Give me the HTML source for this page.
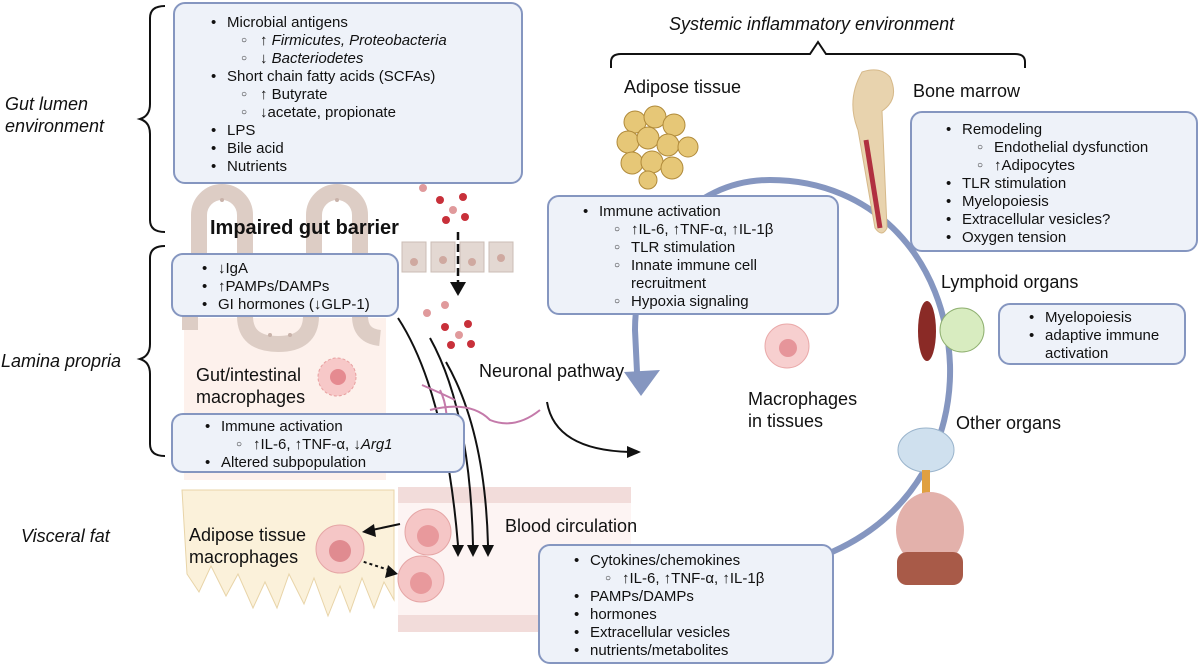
<!DOCTYPE html>
<html><head><meta charset="utf-8"><style>
body{margin:0;background:#fff;}
#c{position:relative;width:1200px;height:665px;overflow:hidden;font-family:"Liberation Sans",sans-serif;color:#111;}
.t{position:absolute;white-space:nowrap;font-size:18px;line-height:22px;}
.box{position:absolute;background:#eef2f9;border:2px solid #8596c0;border-radius:12px;box-sizing:border-box;font-size:15px;line-height:18px;}
.box ul{margin:0;padding:0;list-style:none;}
.box li{white-space:nowrap;position:relative;}
.box li:before{position:absolute;}
.a li.p{padding-left:52px}.a li.p:before{content:"•";left:36px}
.a li.q{padding-left:85px}.a li.q:before{content:"○";left:66px;font-size:10px}
.b li.p{padding-left:45px}.b li.p:before{content:"•";left:29px}
.c li.p{padding-left:48px}.c li.p:before{content:"•";left:32px}
.c li.q{padding-left:80px}.c li.q:before{content:"○";left:63px;font-size:10px}
.d li.p{padding-left:50px}.d li.p:before{content:"•";left:34px}
.d li.q{padding-left:82px}.d li.q:before{content:"○";left:65px;font-size:10px}
.it{font-style:italic;}
</style></head><body><div id="c">
<svg width="1200" height="665" style="position:absolute;left:0;top:0">
<rect x="184" y="318" width="202" height="162" fill="#fdf1ec"/>
<g fill="none" stroke="#ddcdc5" stroke-width="16">
<path d="M199 262 V215 a23 23 0 0 1 46 0 V262"/>
<path d="M314 262 V215 a23 23 0 0 1 46 0 V262"/>
<path d="M190 310 V330"/>
<path d="M245 316 q0 28 33 28 q33 0 33 -28"/>
<path d="M360 316 q0 20 20 22"/>
</g>
<g fill="#c9b3aa"><circle cx="222" cy="200" r="2"/><circle cx="337" cy="200" r="2"/><circle cx="270" cy="335" r="2"/><circle cx="290" cy="335" r="2"/></g>
<path d="M182 490 H394 V600 l-10 -18 l-10 26 l-12 -30 l-12 34 l-10 -26 l-12 30 l-14 -38 l-10 26 l-15 -30 l-12 34 l-12 -26 l-12 26 l-15 -34 l-12 22 l-15 -30 l-12 26 l-12 -18 Z" fill="#fbf1da" stroke="#e8d4a8"/>
<rect x="398" y="487" width="233" height="16" fill="#f2dcda"/>
<rect x="398" y="615" width="233" height="17" fill="#f2dcda"/>
<rect x="398" y="503" width="233" height="112" fill="#fdf4f3"/>
<g fill="#e3d8d2" stroke="#cbbdb5"><rect x="402" y="242" width="24" height="30"/><rect x="431" y="242" width="24" height="30"/><rect x="460" y="242" width="24" height="30"/><rect x="489" y="242" width="24" height="30"/></g>
<g fill="#cfa9a0"><circle cx="414" cy="262" r="4"/><circle cx="443" cy="260" r="4"/><circle cx="472" cy="262" r="4"/><circle cx="501" cy="258" r="4"/></g>
<g fill="#c8303a"><circle cx="440" cy="200" r="4"/><circle cx="463" cy="197" r="4"/><circle cx="446" cy="220" r="4"/><circle cx="465" cy="217" r="4"/><circle cx="445" cy="327" r="4"/><circle cx="468" cy="324" r="4"/><circle cx="451" cy="345" r="4"/><circle cx="471" cy="344" r="4"/></g>
<g fill="#e09a9c"><circle cx="423" cy="188" r="4"/><circle cx="453" cy="210" r="4"/><circle cx="445" cy="305" r="4"/><circle cx="427" cy="313" r="4"/><circle cx="459" cy="335" r="4"/></g>
<path d="M458 232 V282" stroke="#111" stroke-width="2.5" stroke-dasharray="8,4"/>
<path d="M450 282 L466 282 L458 296Z" fill="#111"/>
<g fill="none" stroke="#111" stroke-width="2">
<path d="M165 6 q-15 0 -15 12 V104 q0 12 -10 15 q10 3 10 15 V220 q0 12 15 12"/>
<path d="M165 246 q-15 0 -15 12 V344 q0 12 -10 15 q10 3 10 15 V444 q0 12 15 12"/>
<path d="M611 68 V62 q0 -8 10 -8 H810 l8 -12 l8 12 H1015 q10 0 10 8 V68"/>
</g>
<path d="M832 552 C915 515 952 440 950 365 C946 260 875 180 770 180 C690 180 635 250 635 330 L637 372" fill="none" stroke="#8596c0" stroke-width="6"/>
<path d="M624 372 L660 370 L641 396Z" fill="#8596c0"/>
<g fill="none" stroke="#111" stroke-width="2">
<path d="M398 318 Q445 390 458 545"/>
<path d="M430 338 Q470 410 473 545"/>
<path d="M446 362 Q485 430 488 545"/>
<path d="M547 402 Q555 450 630 452"/>
<path d="M400 524 L372 530"/>
<path d="M358 560 L392 571" stroke-dasharray="3,3"/>
</g>
<g fill="#111"><path d="M452 545 h12 l-6 12Z"/><path d="M467 545 h12 l-6 12Z"/><path d="M482 545 h12 l-6 12Z"/><path d="M627 446 L641 452 L627 458Z"/><path d="M374 524 L362 532 L376 537Z"/><path d="M388 565 L398 574 L385 578Z"/></g>
<g fill="none" stroke="#c47aaa" stroke-width="2"><path d="M430 410 Q470 400 490 420 Q515 430 540 410"/><path d="M440 390 Q450 410 445 440"/><path d="M422 385 Q445 395 455 400"/><path d="M430 430 Q440 420 445 440"/></g>
<circle cx="337" cy="377" r="19" fill="#f7c8c8" stroke="#e8a0a0" stroke-dasharray="3,2"/><circle cx="338" cy="377" r="8" fill="#e58a90"/>
<circle cx="340" cy="549" r="24" fill="#f5c6c6" stroke="#e5a5a5"/><circle cx="340" cy="551" r="11" fill="#e08b90"/>
<circle cx="428" cy="532" r="23" fill="#f5c6c6" stroke="#e5a5a5"/><circle cx="428" cy="536" r="11" fill="#e8999c"/>
<circle cx="421" cy="579" r="23" fill="#f5c6c6" stroke="#e5a5a5"/><circle cx="421" cy="583" r="11" fill="#e8999c"/>
<circle cx="787" cy="346" r="22" fill="#f7cfcf" stroke="#eaaaaa"/><circle cx="788" cy="348" r="9" fill="#e6959a"/>
<g fill="#e6c777" stroke="#b08a3a"><circle cx="635" cy="122" r="11"/><circle cx="655" cy="117" r="11"/><circle cx="674" cy="125" r="11"/><circle cx="628" cy="142" r="11"/><circle cx="648" cy="138" r="11"/><circle cx="668" cy="145" r="11"/><circle cx="688" cy="147" r="10"/><circle cx="632" cy="163" r="11"/><circle cx="652" cy="162" r="11"/><circle cx="672" cy="168" r="11"/><circle cx="648" cy="180" r="9"/></g>
<path d="M862 72 q18 -6 28 5 q10 22 -8 34 L887 228 q-5 10 -12 0 L858 130 q-12 -30 4 -58Z" fill="#e8d3ae" stroke="#d6b98a"/>
<path d="M866 140 L880 228" stroke="#b03040" stroke-width="5"/>
<ellipse cx="927" cy="331" rx="9" ry="30" fill="#8a2a26"/>
<circle cx="962" cy="330" r="22" fill="#d8ecc0" stroke="#8fb070"/>
<ellipse cx="926" cy="450" rx="28" ry="22" fill="#cfe0ee" stroke="#9ab4cc"/>
<rect x="922" y="470" width="8" height="30" fill="#e0a040"/>
<ellipse cx="930" cy="530" rx="34" ry="38" fill="#e3b1ab"/>
<rect x="897" y="552" width="66" height="33" rx="10" fill="#a85a48"/>
</svg>

<div class="t it" style="left:5px;top:93px">Gut lumen<br>environment</div>
<div class="t it" style="left:1px;top:350px">Lamina propria</div>
<div class="t it" style="left:21px;top:525px">Visceral fat</div>
<div class="t" style="left:210px;top:217px;font-size:20px;font-weight:bold">Impaired gut barrier</div>
<div class="t" style="left:196px;top:364px">Gut/intestinal<br>macrophages</div>
<div class="t" style="left:189px;top:524px">Adipose tissue<br>macrophages</div>
<div class="t" style="left:505px;top:515px">Blood circulation</div>
<div class="t" style="left:479px;top:360px">Neuronal pathway</div>
<div class="t it" style="left:669px;top:13px">Systemic inflammatory environment</div>
<div class="t" style="left:624px;top:76px">Adipose tissue</div>
<div class="t" style="left:913px;top:80px">Bone marrow</div>
<div class="t" style="left:941px;top:271px">Lymphoid organs</div>
<div class="t" style="left:748px;top:388px">Macrophages<br>in tissues</div>
<div class="t" style="left:956px;top:412px">Other organs</div>

<div class="box a" style="left:173px;top:2px;width:350px;height:182px;padding-top:10px"><ul>
<li class="p">Microbial antigens</li>
<li class="q">↑ <i>Firmicutes, Proteobacteria</i></li>
<li class="q">↓ <i>Bacteriodetes</i></li>
<li class="p">Short chain fatty acids (SCFAs)</li>
<li class="q">↑ Butyrate</li>
<li class="q">↓acetate, propionate</li>
<li class="p">LPS</li><li class="p">Bile acid</li><li class="p">Nutrients</li></ul></div>

<div class="box b" style="left:171px;top:253px;width:228px;height:64px;padding-top:5px"><ul>
<li class="p">↓IgA</li><li class="p">↑PAMPs/DAMPs</li><li class="p">GI hormones (↓GLP-1)</li></ul></div>

<div class="box c" style="left:171px;top:413px;width:294px;height:60px;padding-top:3px"><ul>
<li class="p">Immune activation</li>
<li class="q">↑IL-6, ↑TNF-α, ↓<i>Arg1</i></li>
<li class="p">Altered subpopulation</li></ul></div>

<div class="box d" style="left:547px;top:195px;width:292px;height:120px;padding-top:6px"><ul>
<li class="p">Immune activation</li>
<li class="q">↑IL-6, ↑TNF-α, ↑IL-1β</li>
<li class="q">TLR stimulation</li>
<li class="q">Innate immune cell<br>recruitment</li>
<li class="q">Hypoxia signaling</li></ul></div>

<div class="box d" style="left:910px;top:111px;width:288px;height:141px;padding-top:8px"><ul>
<li class="p">Remodeling</li>
<li class="q">Endothelial dysfunction</li>
<li class="q">↑Adipocytes</li>
<li class="p">TLR stimulation</li><li class="p">Myelopoiesis</li><li class="p">Extracellular vesicles?</li><li class="p">Oxygen tension</li></ul></div>

<div class="box b" style="left:998px;top:303px;width:188px;height:62px;padding-top:4px"><ul>
<li class="p">Myelopoiesis</li><li class="p">adaptive immune<br>activation</li></ul></div>

<div class="box d" style="left:538px;top:544px;width:296px;height:120px;padding-top:6px"><ul>
<li class="p">Cytokines/chemokines</li>
<li class="q">↑IL-6, ↑TNF-α, ↑IL-1β</li>
<li class="p">PAMPs/DAMPs</li><li class="p">hormones</li><li class="p">Extracellular vesicles</li><li class="p">nutrients/metabolites</li></ul></div>
</div></body></html>
